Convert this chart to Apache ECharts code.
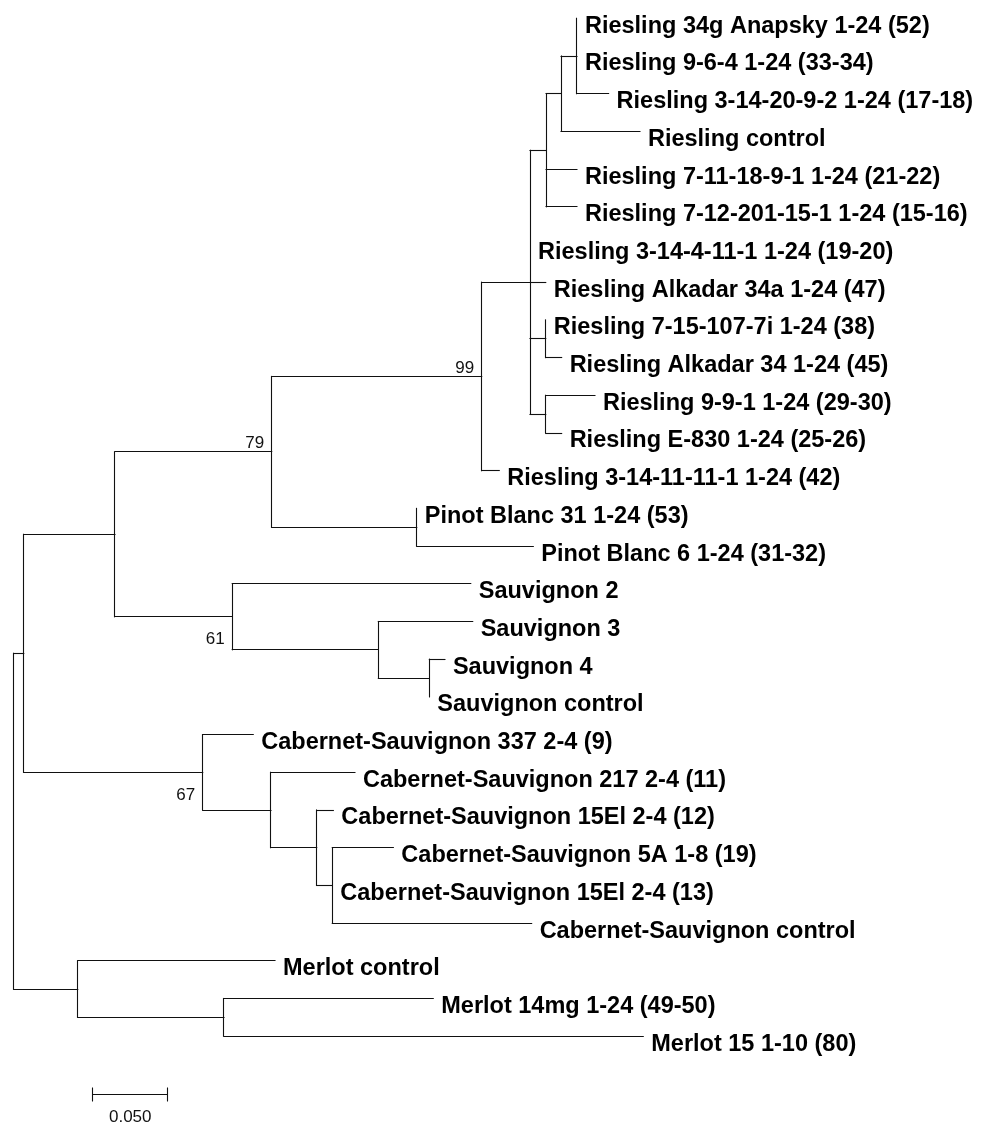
<!DOCTYPE html>
<html><head><meta charset="utf-8">
<script src="https://cdn.jsdelivr.net/npm/echarts@6/dist/echarts.min.js"></script>
<style>html,body{margin:0;padding:0;background:#fff}#c{width:987px;height:1124px}</style>
</head><body><div id="c"></div><script>
const leafNames = [
  'Riesling 34g Anapsky 1-24 (52)',
  'Riesling 9-6-4 1-24 (33-34)',
  'Riesling 3-14-20-9-2 1-24 (17-18)',
  'Riesling control',
  'Riesling 7-11-18-9-1 1-24 (21-22)',
  'Riesling 7-12-201-15-1 1-24 (15-16)',
  'Riesling 3-14-4-11-1 1-24 (19-20)',
  'Riesling Alkadar 34a 1-24 (47)',
  'Riesling 7-15-107-7i 1-24 (38)',
  'Riesling Alkadar 34 1-24 (45)',
  'Riesling 9-9-1 1-24 (29-30)',
  'Riesling E-830 1-24 (25-26)',
  'Riesling 3-14-11-11-1 1-24 (42)',
  'Pinot Blanc 31 1-24 (53)',
  'Pinot Blanc 6 1-24 (31-32)',
  'Sauvignon 2',
  'Sauvignon 3',
  'Sauvignon 4',
  'Sauvignon control',
  'Cabernet-Sauvignon 337 2-4 (9)',
  'Cabernet-Sauvignon 217 2-4 (11)',
  'Cabernet-Sauvignon 15El 2-4 (12)',
  'Cabernet-Sauvignon 5A 1-8 (19)',
  'Cabernet-Sauvignon 15El 2-4 (13)',
  'Cabernet-Sauvignon control',
  'Merlot control',
  'Merlot 14mg 1-24 (49-50)',
  'Merlot 15 1-10 (80)'
];
const leafParents = ['nR2','nR2','nR2','nR3','nRtop','nRtop','nRpoly','nRpoly','nR7','nR7','nR9','nR9','nR',
  'nPB','nPB','nS','nS3','nS4','nS4','nC','nC2','nC3','nC4','nC4','nC4','nM','nM2','nM2'];
// distance from root (substitutions/site)
const leafDepths = [0.3755,0.3755,0.3966,0.4175,0.3755,0.3755,0.3442,0.3547,0.3547,0.3653,0.3875,0.3653,0.3237,
  0.2687,0.3464,0.3047,0.3060,0.2875,0.2771,0.1597,0.2275,0.2131,0.2531,0.2124,0.3453,0.1742,0.2797,0.4197];

const nodeIds     = ['root','nMain','nRPS','nRP','nR','nRpoly','nRtop','nR3','nR2','nR7','nR9','nPB','nS','nS3','nS4','nC','nC2','nC3','nC4','nM','nM2'];
const nodeParents = [null,'root','nMain','nRPS','nRP','nR','nRpoly','nRtop','nR3','nRpoly','nRpoly','nRP','nRPS','nS','nS3','nMain','nC','nC2','nC3','root','nM'];
const nodeDepths  = [0,0.0067,0.0675,0.1720,0.3120,0.3442,0.3549,0.3649,0.3755,0.3547,0.3547,0.2687,0.1457,0.2431,0.2771,0.1260,0.1715,0.2020,0.2124,0.0427,0.1402];

const bootstrapNodes  = ['nR','nRP','nS','nC'];
const bootstrapValues = [99,79,61,67];

const scaleBarValue = 0.05;
const scaleBarLabel = '0.050';

// ---- layout / style (not data) ----
const bootstrapBelow = {nS:true, nC:true};
const scaleBarAnchor = [0.0527, 28.54];
const LINE = '#111';

// ---- build tree geometry ----
const nodeDepth = {};
nodeIds.forEach((id,i)=>{ nodeDepth[id]=nodeDepths[i]; });
const children = {};
nodeIds.forEach(id=>children[id]=[]);
leafNames.forEach((n,i)=>children[leafParents[i]].push({leaf:true,i}));
nodeIds.forEach((id,i)=>{ if(nodeParents[i]) children[nodeParents[i]].push({leaf:false,id}); });
const nodeY = {};
function yOf(c){ return c.leaf ? c.i : computeY(c.id); }
function computeY(id){
  if(nodeY[id]!==undefined) return nodeY[id];
  const ys = children[id].map(yOf);
  nodeY[id] = (Math.min(...ys)+Math.max(...ys))/2;
  return nodeY[id];
}
computeY('root');

const segs = [];
leafNames.forEach((n,i)=>{ segs.push([nodeDepth[leafParents[i]], i, leafDepths[i], i]); });
nodeIds.forEach((id,i)=>{
  const p = nodeParents[i];
  if(p) segs.push([nodeDepth[p], nodeY[id], nodeDepths[i], nodeY[id]]);
  const ys = children[id].map(yOf);
  segs.push([nodeDepths[i], Math.min(...ys), nodeDepths[i], Math.max(...ys)]);
});

const crisp = v => Math.round(v-0.5)+0.5;

const chart = echarts.init(document.getElementById('c'), null, {renderer:'canvas'});
chart.setOption({
  animation:false,
  backgroundColor:'#fff',
  grid:{left:13.7, top:18.3, width:900, height:37.7*29},
  xAxis:{type:'value', min:0, max:0.6, show:false},
  yAxis:{type:'value', min:0, max:29, inverse:true, show:false},
  series:[
    {
      type:'custom', name:'branches', clip:false, silent:true,
      data:segs,
      renderItem:(params, api)=>{
        const a = api.coord([api.value(0), api.value(1)]);
        const b = api.coord([api.value(2), api.value(3)]);
        const horiz = Math.abs(a[1]-b[1])<0.01;
        return {type:'line',
          shape:{x1: horiz? a[0] : crisp(a[0]), y1: horiz? crisp(a[1]) : a[1],
                 x2: horiz? b[0] : crisp(b[0]), y2: horiz? crisp(b[1]) : b[1]},
          style:{stroke:LINE, lineWidth:1.1, lineCap:'square'}};
      }
    },
    {
      type:'custom', name:'leaves', clip:false, silent:true,
      data:leafNames.map((n,i)=>[leafDepths[i], i]),
      renderItem:(params, api)=>{
        const p = api.coord([api.value(0), api.value(1)]);
        return {type:'text', x:p[0]+8, y:p[1]+8,
          style:{text:leafNames[params.dataIndex], fill:'#000',
            font:'bold 23.5px "Liberation Sans", Arial, sans-serif', align:'left', verticalAlign:'middle'}};
      }
    },
    {
      type:'custom', name:'bootstrap', clip:false, silent:true,
      data:bootstrapNodes.map((id,k)=>[nodeDepth[id], nodeY[id]]),
      renderItem:(params, api)=>{
        const p = api.coord([api.value(0), api.value(1)]);
        const id = bootstrapNodes[params.dataIndex];
        const dy = bootstrapBelow[id] ? 23 : -8.5;
        return {type:'text', x:p[0]-7.5, y:p[1]+dy,
          style:{text:String(bootstrapValues[params.dataIndex]), fill:'#111',
            font:'17px "Liberation Sans", Arial, sans-serif', align:'right', verticalAlign:'middle'}};
      }
    },
    {
      type:'custom', name:'scale', clip:false, silent:true,
      data:[[scaleBarAnchor[0], scaleBarAnchor[1], scaleBarAnchor[0]+scaleBarValue, scaleBarAnchor[1]]],
      renderItem:(params, api)=>{
        const a = api.coord([api.value(0), api.value(1)]);
        const b = api.coord([api.value(2), api.value(3)]);
        const y = crisp(a[1]);
        return {type:'group', children:[
          {type:'line', shape:{x1:a[0], y1:y, x2:b[0], y2:y}, style:{stroke:LINE, lineWidth:1.1}},
          {type:'line', shape:{x1:crisp(a[0]), y1:y-7, x2:crisp(a[0]), y2:y+7}, style:{stroke:LINE, lineWidth:1.1}},
          {type:'line', shape:{x1:crisp(b[0]), y1:y-7, x2:crisp(b[0]), y2:y+7}, style:{stroke:LINE, lineWidth:1.1}},
          {type:'text', x:(a[0]+b[0])/2, y:y+23,
            style:{text:scaleBarLabel, fill:'#111', font:'17px "Liberation Sans", Arial, sans-serif', align:'center', verticalAlign:'middle'}}
        ]};
      }
    }
  ]
});
</script></body></html>
